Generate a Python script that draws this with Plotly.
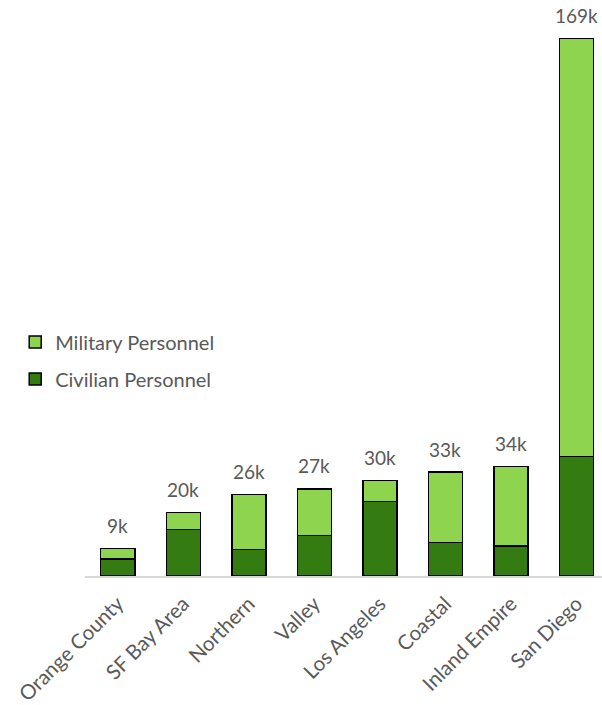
import plotly.graph_objects as go

regions = ["Orange County", "SF Bay Area", "Northern", "Valley", "Los Angeles",
           "Coastal", "Inland Empire", "San Diego"]
civilian = [5.3, 14.6, 8.3, 12.8, 23.5, 10.6, 9.4, 37.6]
military = [3.3, 5.4, 17.4, 14.6, 6.5, 22.1, 25.0, 131.4]
totals = [c + m for c, m in zip(civilian, military)]
total_labels = [f"{round(t)}k" for t in totals]

FONT = "Lato, Open Sans, sans-serif"
GRAY = "#595959"

fig = go.Figure()
fig.add_trace(go.Bar(x=regions, y=civilian, name="Civilian Personnel",
                     marker=dict(color="#347B12", line=dict(color="black", width=1.5)),
                     legendgroup="c", legendrank=2))
fig.add_trace(go.Bar(x=regions, y=military, name="Military Personnel",
                     marker=dict(color="#8FD44E", line=dict(color="black", width=1.5)),
                     legendgroup="m", legendrank=1))

for r, t, lab in zip(regions, totals, total_labels):
    fig.add_annotation(x=r, y=t, text=lab, showarrow=False, yanchor="middle",
                       yshift=23, font=dict(family=FONT, size=19, color=GRAY))

fig.update_layout(
    width=602, height=705,
    barmode="stack", bargap=0.48,
    plot_bgcolor="white", paper_bgcolor="white",
    margin=dict(l=85, r=0, t=10, b=128.5),
    font=dict(family=FONT, size=19, color=GRAY),
    legend=dict(x=-0.135, y=0.448, xanchor="left", yanchor="top",
                traceorder="grouped", tracegroupgap=8,
                font=dict(family=FONT, size=20, color=GRAY),
                bgcolor="rgba(0,0,0,0)"),
    xaxis=dict(range=[-0.5, 7.39], tickangle=-45, showline=True,
               linecolor="#d9d9d9", linewidth=1.5, ticks="",
               ticklabelstandoff=6, automargin=False,
               tickfont=dict(family=FONT, size=20.5, color=GRAY)),
    yaxis=dict(range=[0, 178], visible=False, showgrid=False, zeroline=False),
    showlegend=True,
)

fig.write_html("out.html", config={"displayModeBar": False},
               post_script="document.body.style.margin='0';document.body.style.overflow='hidden';")
